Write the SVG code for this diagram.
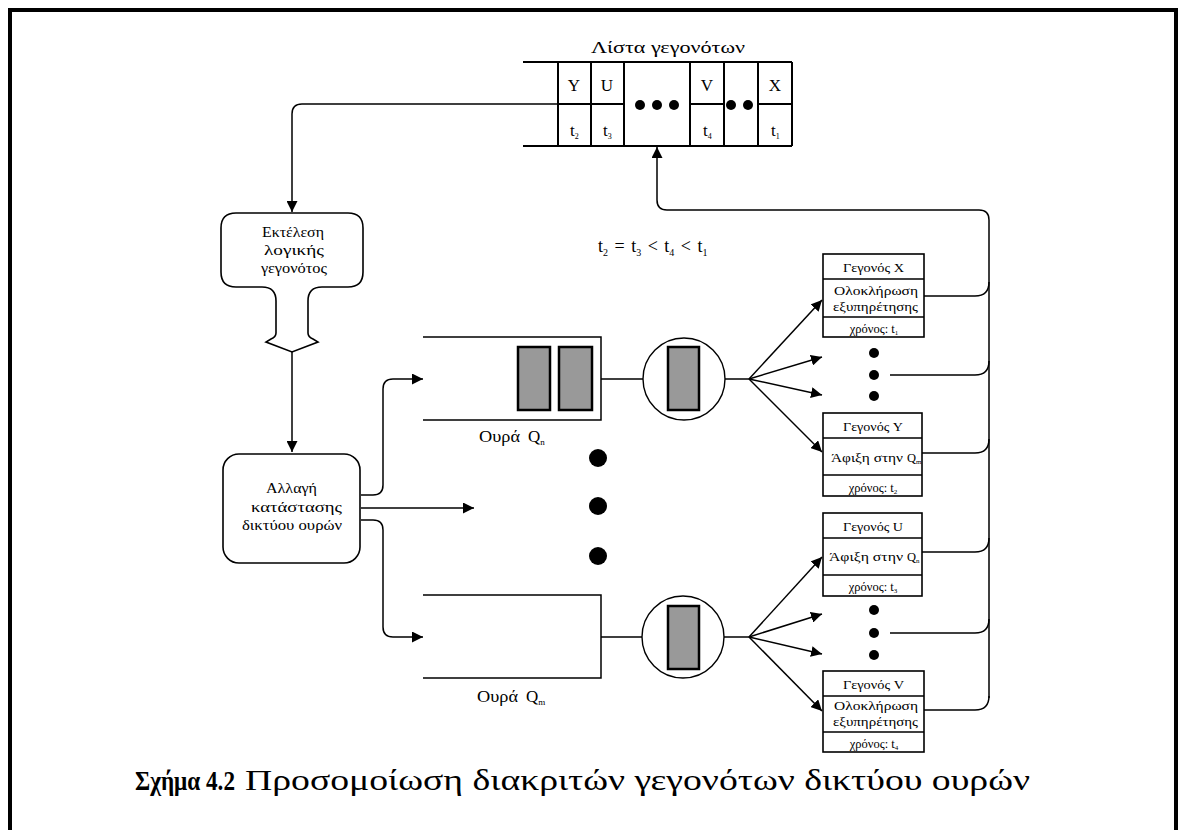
<svg xmlns="http://www.w3.org/2000/svg" width="1186" height="830" viewBox="0 0 1186 830">
<style>
text{font-family:"Liberation Serif","DejaVu Serif",serif;fill:#000}
.ln{fill:none;stroke:#000;stroke-width:1.5}
.bx{fill:#fff;stroke:#000;stroke-width:1.6}
.cell{fill:none;stroke:#000;stroke-width:2}
.job{fill:#999;stroke:#000;stroke-width:2.5}
.ev{font-size:12.5px;text-anchor:middle}
.sub{font-size:8px}
</style>
<defs>
<marker id="ah" viewBox="0 0 10 10" refX="10" refY="5" markerWidth="11" markerHeight="11" markerUnits="userSpaceOnUse" orient="auto">
<path d="M0,0 L10,5 L0,10 z" fill="#000"/>
</marker>
</defs>
<rect width="1186" height="830" fill="#fff"/>
<path d="M10,830 V10 H1176 V830" fill="none" stroke="#000" stroke-width="4"/>

<g id="event-list">
<text x="591" y="53" font-size="16" textLength="154" lengthAdjust="spacingAndGlyphs">Λίστα γεγονότων</text>
<path class="cell" d="M523,62 H792 M523,146 H792 M558,62 V146 M591,62 V146 M624,62 V146 M690,62 V146 M724,62 V146 M758,62 V146 M792,62 V146 M558,104 H624 M690,104 H724 M758,104 H792"/>
<text x="574" y="91" font-size="17" text-anchor="middle">Y</text>
<text x="607" y="91" font-size="17" text-anchor="middle">U</text>
<text x="707" y="91" font-size="17" text-anchor="middle">V</text>
<text x="775" y="91" font-size="17" text-anchor="middle">X</text>
<text x="570" y="136" font-size="17">t<tspan class="sub" dy="3">2</tspan></text>
<text x="603" y="136" font-size="17">t<tspan class="sub" dy="3">3</tspan></text>
<text x="703" y="136" font-size="17">t<tspan class="sub" dy="3">4</tspan></text>
<text x="771" y="136" font-size="17">t<tspan class="sub" dy="3">1</tspan></text>
<circle cx="640" cy="105" r="5"/><circle cx="657" cy="105" r="5"/><circle cx="674" cy="105" r="5"/>
<circle cx="731" cy="105" r="5"/><circle cx="748" cy="105" r="5"/>
</g>

<g id="execute-logic">
<path class="bx" d="M236,213 H348 Q363,213 363,228 V272 Q363,287 348,287 H322 Q308,287 308,301 V333 Q308,337 313,339 L318,342 L292,352 L266,342 L271,339 Q276,337 276,333 V301 Q276,287 262,287 H236 Q221,287 221,272 V228 Q221,213 236,213 Z"/>
<text x="262" y="237" font-size="14" textLength="62" lengthAdjust="spacingAndGlyphs">Εκτέλεση</text>
<text x="264" y="255" font-size="14" textLength="60" lengthAdjust="spacingAndGlyphs">λογικής</text>
<text x="261" y="273" font-size="14" textLength="66" lengthAdjust="spacingAndGlyphs">γεγονότος</text>
</g>

<g id="state-change">
<rect class="bx" x="223" y="454" width="137" height="109" rx="16"/>
<text x="266" y="493" font-size="14" textLength="51" lengthAdjust="spacingAndGlyphs">Αλλαγή</text>
<text x="251" y="512" font-size="14" textLength="91" lengthAdjust="spacingAndGlyphs">κατάστασης</text>
<text x="242" y="530" font-size="14" textLength="100" lengthAdjust="spacingAndGlyphs">δικτύου ουρών</text>
</g>

<g id="formula">
<text x="598" y="252" font-size="18" word-spacing="2">t<tspan font-size="10" dy="4">2</tspan><tspan dy="-4"> = t</tspan><tspan font-size="10" dy="4">3</tspan><tspan dy="-4"> &lt; t</tspan><tspan font-size="10" dy="4">4</tspan><tspan dy="-4"> &lt; t</tspan><tspan font-size="10" dy="4">1</tspan></text>
</g>

<g id="queue-n">
<path class="ln" d="M423,337 H601 V420 H423"/>
<rect class="job" x="518" y="347" width="32" height="63"/>
<rect class="job" x="559" y="347" width="33" height="63"/>
<text x="479" y="442" font-size="17"><tspan textLength="41" lengthAdjust="spacingAndGlyphs">Ουρά</tspan><tspan x="528">Q</tspan><tspan font-size="9" dy="3">n</tspan></text>
</g>
<g id="server-n">
<circle cx="684" cy="379" r="41" fill="#fff" stroke="#000" stroke-width="1.4"/>
<rect class="job" x="668" y="347" width="31" height="63"/>
</g>

<g id="queue-m">
<path class="ln" d="M423,595 H601 V678 H423"/>
<text x="477" y="702" font-size="17"><tspan textLength="41" lengthAdjust="spacingAndGlyphs">Ουρά</tspan><tspan x="526">Q</tspan><tspan font-size="9" dy="3">m</tspan></text>
</g>
<g id="server-m">
<circle cx="683" cy="637" r="41" fill="#fff" stroke="#000" stroke-width="1.4"/>
<rect class="job" x="668" y="606" width="31" height="63"/>
</g>

<g id="mid-dots">
<circle cx="598" cy="458" r="9"/><circle cx="598" cy="506" r="9"/><circle cx="598" cy="556" r="9"/>
</g>

<g id="event-x">
<rect class="bx" x="823" y="254" width="101" height="83"/>
<path class="ln" d="M823,279 H924 M823,317 H924"/>
<text x="843" y="272" font-size="12.5" textLength="61" lengthAdjust="spacingAndGlyphs">Γεγονός X</text>
<text x="834" y="295" font-size="12.5" textLength="84" lengthAdjust="spacingAndGlyphs">Ολοκλήρωση</text>
<text x="833" y="311" font-size="12.5" textLength="85" lengthAdjust="spacingAndGlyphs">εξυπηρέτησης</text>
<text class="ev" x="874" y="333">χρόνος: t<tspan font-size="7" dy="2">1</tspan></text>
</g>
<g id="event-y">
<rect class="bx" x="823" y="413" width="99" height="83"/>
<path class="ln" d="M823,438 H922 M823,475 H922"/>
<text x="843" y="431" font-size="12.5" textLength="60" lengthAdjust="spacingAndGlyphs">Γεγονός Y</text>
<text x="831" y="462" font-size="12.5"><tspan textLength="72" lengthAdjust="spacingAndGlyphs">Άφιξη στην</tspan><tspan x="907">Q</tspan><tspan font-size="7" dy="2">m</tspan></text>
<text class="ev" x="873" y="492">χρόνος: t<tspan font-size="7" dy="2">2</tspan></text>
</g>
<g id="event-u">
<rect class="bx" x="823" y="513" width="99" height="83"/>
<path class="ln" d="M823,538 H922 M823,575 H922"/>
<text x="843" y="531" font-size="12.5" textLength="60" lengthAdjust="spacingAndGlyphs">Γεγονός U</text>
<text x="829" y="561" font-size="12.5"><tspan textLength="74" lengthAdjust="spacingAndGlyphs">Άφιξη στην</tspan><tspan x="907">Q</tspan><tspan font-size="7" dy="2">n</tspan></text>
<text class="ev" x="873" y="591">χρόνος: t<tspan font-size="7" dy="2">3</tspan></text>
</g>
<g id="event-v">
<rect class="bx" x="823" y="671" width="101" height="81"/>
<path class="ln" d="M823,696 H924 M823,732 H924"/>
<text x="843" y="689" font-size="12.5" textLength="61" lengthAdjust="spacingAndGlyphs">Γεγονός V</text>
<text x="834" y="710" font-size="12.5" textLength="84" lengthAdjust="spacingAndGlyphs">Ολοκλήρωση</text>
<text x="833" y="726" font-size="12.5" textLength="85" lengthAdjust="spacingAndGlyphs">εξυπηρέτησης</text>
<text class="ev" x="874" y="748">χρόνος: t<tspan font-size="7" dy="2">4</tspan></text>
</g>
<g id="event-dots">
<circle cx="874" cy="353" r="5"/><circle cx="874" cy="375" r="5"/><circle cx="874" cy="396" r="5"/>
<circle cx="874" cy="610" r="5"/><circle cx="874" cy="633" r="5"/><circle cx="874" cy="655" r="5"/>
</g>

<g id="connectors">
<path class="ln" d="M557,104 H302 Q292,104 292,114 V212" marker-end="url(#ah)"/>
<path class="ln" d="M292,352 V452" marker-end="url(#ah)"/>
<path class="ln" d="M989,698 V220 Q989,210 979,210 H667 Q657,210 657,200 V147" marker-end="url(#ah)"/>
<path class="ln" d="M924,296 H975 Q989,296 989,282"/>
<path class="ln" d="M890,375 H975 Q989,375 989,361"/>
<path class="ln" d="M922,453 H975 Q989,453 989,439"/>
<path class="ln" d="M922,552 H975 Q989,552 989,538"/>
<path class="ln" d="M890,633 H975 Q989,633 989,619"/>
<path class="ln" d="M924,710 H975 Q989,710 989,696"/>
<path class="ln" d="M361,495 H373 Q383,495 383,485 V389 Q383,379 393,379 H423" marker-end="url(#ah)"/>
<path class="ln" d="M361,508 H474" marker-end="url(#ah)"/>
<path class="ln" d="M361,520 H373 Q383,520 383,530 V627 Q383,637 393,637 H423" marker-end="url(#ah)"/>
<path class="ln" d="M601,379 H643 M725,379 H749"/>
<path class="ln" d="M601,637 H642 M724,637 H749"/>
<path class="ln" d="M749,379 L822,300" marker-end="url(#ah)"/>
<path class="ln" d="M749,379 L822,357" marker-end="url(#ah)"/>
<path class="ln" d="M749,379 L822,395" marker-end="url(#ah)"/>
<path class="ln" d="M749,379 L822,452" marker-end="url(#ah)"/>
<path class="ln" d="M749,637 L822,557" marker-end="url(#ah)"/>
<path class="ln" d="M749,637 L822,614" marker-end="url(#ah)"/>
<path class="ln" d="M749,637 L822,654" marker-end="url(#ah)"/>
<path class="ln" d="M749,637 L822,711" marker-end="url(#ah)"/>
</g>

<g id="caption">
<text x="135" y="790" font-size="28" font-weight="bold" textLength="100" lengthAdjust="spacingAndGlyphs">Σχήμα 4.2</text>
<text x="245" y="790" font-size="29" textLength="785" lengthAdjust="spacingAndGlyphs">Προσομοίωση διακριτών γεγονότων δικτύου ουρών</text>
</g>
</svg>
